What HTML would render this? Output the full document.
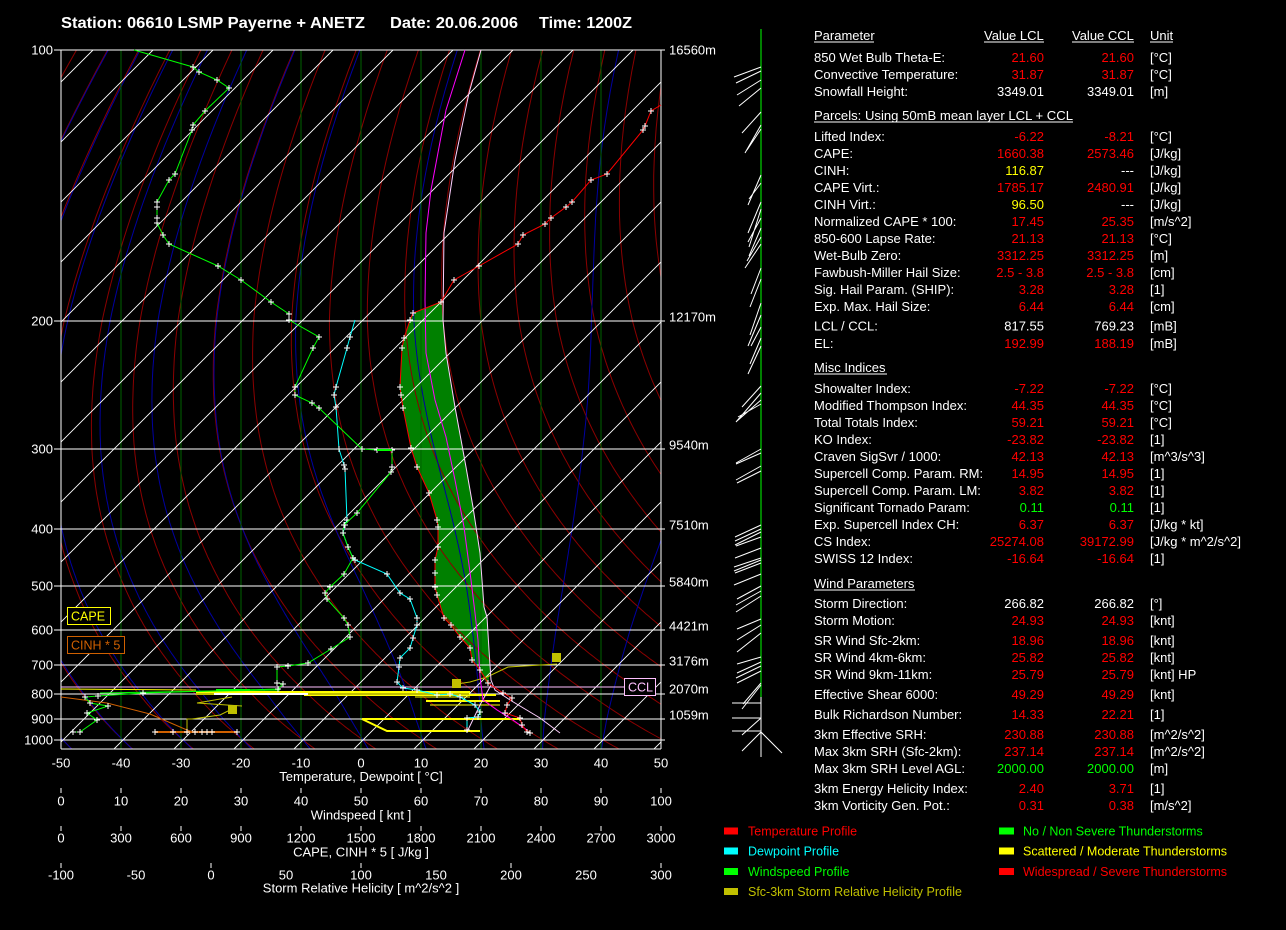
<!DOCTYPE html>
<html><head><meta charset="utf-8">
<style>
html,body{margin:0;padding:0;background:#000;}
svg{display:block;}
text{font-family:"Liberation Sans",Arial,sans-serif;}
.t{font-size:13px;fill:#fff;}
.e{text-anchor:end;}
.m{text-anchor:middle;}
.r{fill:#ff0000;} .y{fill:#ffff00;} .g{fill:#00ff00;}
.lg{font-size:12.5px;}
</style></head><body>
<svg width="1286" height="930" xmlns="http://www.w3.org/2000/svg">
<rect width="1286" height="930" fill="#000"/>
<defs>
<clipPath id="cb"><rect x="61" y="50" width="600" height="699"/></clipPath>
<marker id="pl" markerWidth="8" markerHeight="8" refX="4" refY="4" markerUnits="userSpaceOnUse"><path d="M1 4H7M4 1V7" stroke="#fff" stroke-width="1" fill="none"/></marker>
</defs>

<!-- Title -->
<text x="61" y="28" font-size="16" font-weight="bold" fill="#fff" textLength="304" lengthAdjust="spacingAndGlyphs">Station: 06610 LSMP Payerne + ANETZ</text>
<text x="390" y="28" font-size="16" font-weight="bold" fill="#fff" textLength="128" lengthAdjust="spacingAndGlyphs">Date: 20.06.2006</text>
<text x="539" y="28" font-size="16" font-weight="bold" fill="#fff" textLength="93" lengthAdjust="spacingAndGlyphs">Time: 1200Z</text>

<!-- Chart background -->
<g clip-path="url(#cb)">
  <polygon fill="#008000" points="441,302 443,303 443,320 446,353 455,407 466,467 473,507 480,553 484,607 487,617 489,650 490,672 488,684 486,682 480,670 472,660 470,648 460,637 451,625 444,618 437,595 435,587 435,573 435,560 438,547 438,527 437,520 429,493 417,467 411,448 403,408 401,395 400,387 402,348 404,338 410,320 413,313"/>
  <g id="adi" fill="none" stroke-width="1"></g>
  <path stroke="#006400" stroke-width="1" fill="none" shape-rendering="crispEdges" d="M121 50V749M181 50V749M241 50V749M301 50V749M361 50V749M421 50V749M481 50V749M541 50V749M601 50V749"/>
  <path stroke="#ffffff" stroke-width="0.9" fill="none" d="M-606 749L93 50M-546 749L153 50M-486 749L213 50M-426 749L273 50M-366 749L333 50M-306 749L393 50M-246 749L453 50M-186 749L513 50M-126 749L573 50M-66 749L633 50M-6 749L693 50M54 749L753 50M114 749L813 50M174 749L873 50M234 749L933 50M294 749L993 50M354 749L1053 50M414 749L1113 50M474 749L1173 50M534 749L1233 50M594 749L1293 50M654 749L1353 50"/>
</g>

<!-- Pressure lines and frame -->
<path stroke="#fff" stroke-width="1" fill="none" shape-rendering="crispEdges" d="M54 50H665M54 321H665M54 449H665M54 529H665M54 586H665M54 630H665M54 665H665M54 694H665M54 719H665M54 740H665M61 50V749M661 50V749M61 749H661"/>
<path stroke="#ffc0ff" stroke-width="1" fill="none" shape-rendering="crispEdges" d="M61 687H624"/>

<!-- Pressure labels -->
<g class="t e">
<text x="53" y="54.5">100</text>
<text x="53" y="325.5">200</text>
<text x="53" y="453.5">300</text>
<text x="53" y="533.5">400</text>
<text x="53" y="590.5">500</text>
<text x="53" y="634.5">600</text>
<text x="53" y="669.5">700</text>
<text x="53" y="698.5">800</text>
<text x="53" y="723.5">900</text>
<text x="53" y="744.5">1000</text>
</g>
<!-- Height labels -->
<g class="t">
<text x="669" y="54.5">16560m</text>
<text x="669" y="321.5">12170m</text>
<text x="669" y="449.5">9540m</text>
<text x="669" y="529.5">7510m</text>
<text x="669" y="586.5">5840m</text>
<text x="669" y="630.5">4421m</text>
<text x="669" y="665.5">3176m</text>
<text x="669" y="693.5">2070m</text>
<text x="669" y="719.5">1059m</text>
</g>

<!-- Low-level SRH / CINH / misc lines -->
<g fill="none" stroke-width="1">
  <polyline stroke="#ffff00" points="61,689 196,690"/>
  <polyline stroke="#ffff00" stroke-width="2" points="196,692 470,692"/>
  <polyline stroke="#ffff00" points="360,693 470,693"/>
  <polyline stroke="#ffff00" stroke-width="2" points="304,695 496,695"/>
  <polyline stroke="#ffff00" points="415,697 470,697"/>
  <polyline stroke="#ffff00" stroke-width="2" points="426,701 500,701"/>
  <polyline stroke="#ffff00" points="430,705 500,705"/>
  <polyline stroke="#ffff00" stroke-width="2" points="362,719 520,719"/>
  <polyline stroke="#ffff00" stroke-width="2" points="362,719 387,731 480,731"/>
  <polyline stroke="#c0c000" stroke-width="2" points="196,694 469,694"/>
  <polyline stroke="#c0c000" points="232,697 197,703 242,706"/>
  <polyline stroke="#c0c000" points="232,709 220,715 192,719 187,719 187,730"/>
  <polyline stroke="#c0c000" points="457,684 470,682 487,677 508,667 557,664"/>
  <polyline stroke="#ffffff" stroke-width="2" points="214,694 308,694"/>
  <polyline stroke="#00ff00" stroke-width="2" points="216,690 250,690"/>
  <polyline stroke="#00ff00" points="100,693 280,690"/>
  <polyline stroke="#d06000" points="61,697 107,703 150,714 187,730 193,732"/>
  <polyline stroke="#d06000" stroke-width="2" marker-start="url(#pl)" marker-mid="url(#pl)" marker-end="url(#pl)" points="155,732 173,732 187,732 195,732 202,732 207,732 212,732 237,732"/>
</g>
<g fill="#c0c000">
  <rect x="552" y="653" width="9" height="9"/>
  <rect x="452" y="679" width="9" height="9"/>
  <rect x="228" y="705" width="9" height="9"/>
</g>

<!-- Profiles -->
<g fill="none" stroke-width="1">
  <polyline stroke="#ffd0ff" points="481,50 469,93 455,160 444,233 443,320 446,353 455,407 466,467 473,507 480,553 484,607 487,617 489,650 491,680 495,690 510,700 540,718 560,733"/>
  <polyline stroke="#ffd0ff" points="491,685 480,705 467,732"/>
  <polyline stroke="#ff00ff" points="465,50 446,110 431,190 426,233 425,300 426,353 435,400 446,437 455,480 464,527 471,580 475,613 478,640 480,677 483,700 497,710 510,718 527,730"/>
  <polyline stroke="#ff0000" marker-mid="url(#pl)" marker-end="url(#pl)" points="661,105 651,111 645,126 643,130 607,174 591,180 572,202 566,207 551,218 545,224 523,235 518,244 479,266 454,280 441,302 413,313 410,320 404,338 402,348 400,387 401,395 403,408 411,448 417,467 429,493 437,520 438,527 438,547 435,560 435,573 435,587 437,595 444,618 451,625 460,637 470,648 472,660 480,670 488,683 503,693 512,698 507,705 505,713 520,718 522,725 527,732 530,733"/>
  <polyline stroke="#00ffff" marker-mid="url(#pl)" marker-end="url(#pl)" points="355,320 350,337 347,348 336,387 334,395 336,407 339,449 344,465 345,469 347,520 345,525 343,533 348,547 353,558 355,560 387,574 400,593 410,599 417,618 417,625 413,638 410,648 400,658 399,667 397,682 403,688 417,690 437,695 450,694 460,697 475,705 480,712 478,717 467,718 467,730"/>
  <polyline stroke="#00ff00" marker-mid="url(#pl)" marker-end="url(#pl)" points="134,50 193,67 199,72 217,80 229,88 205,111 193,125 192,130 175,174 169,180 157,202 157,207 157,218 157,223 163,235 169,244 218,266 241,280 271,302 289,314 289,320 319,337 313,348 295,387 295,395 312,403 319,408 362,449 377,450 392,450 392,467 391,472 357,513 344,525 343,533 348,547 353,558 344,574 330,587 325,593 327,599 344,618 348,625 350,637 331,649 308,663 288,666 277,667 277,683 283,684 278,689 143,693 98,696 85,697 90,703 108,706 87,713 97,720 80,732 73,732"/>
  <polyline stroke="#00ff00" stroke-width="2" points="377,450 392,450"/>
</g>

<!-- CAPE / CINH / CCL boxes -->
<rect x="67.5" y="607.5" width="43" height="17" fill="#000" stroke="#ffff00"/>
<text x="71" y="620.5" font-size="12.5" fill="#ffff00">CAPE</text>
<rect x="67.5" y="636.5" width="57" height="17" fill="#000" stroke="#d06000"/>
<text x="71" y="649.5" font-size="12.5" fill="#d06000">CINH * 5</text>
<rect x="624.5" y="678.5" width="31" height="17" fill="#000" stroke="#ffc0ff"/>
<text x="628" y="691.5" font-size="12.5" fill="#ffc0ff">CCL</text>

<!-- Bottom axes -->
<g class="t m">
<text x="61" y="767.5">-50</text><text x="121" y="767.5">-40</text><text x="181" y="767.5">-30</text><text x="241" y="767.5">-20</text><text x="301" y="767.5">-10</text><text x="361" y="767.5">0</text><text x="421" y="767.5">10</text><text x="481" y="767.5">20</text><text x="541" y="767.5">30</text><text x="601" y="767.5">40</text><text x="661" y="767.5">50</text>
<text x="361" y="781">Temperature, Dewpoint [ °C]</text>
<text x="61" y="805.5">0</text><text x="121" y="805.5">10</text><text x="181" y="805.5">20</text><text x="241" y="805.5">30</text><text x="301" y="805.5">40</text><text x="361" y="805.5">50</text><text x="421" y="805.5">60</text><text x="481" y="805.5">70</text><text x="541" y="805.5">80</text><text x="601" y="805.5">90</text><text x="661" y="805.5">100</text>
<text x="361" y="819.5">Windspeed  [ knt ]</text>
<text x="61" y="842.5">0</text><text x="121" y="842.5">300</text><text x="181" y="842.5">600</text><text x="241" y="842.5">900</text><text x="301" y="842.5">1200</text><text x="361" y="842.5">1500</text><text x="421" y="842.5">1800</text><text x="481" y="842.5">2100</text><text x="541" y="842.5">2400</text><text x="601" y="842.5">2700</text><text x="661" y="842.5">3000</text>
<text x="361" y="856.5">CAPE, CINH * 5  [ J/kg ]</text>
<text x="61" y="879.5">-100</text><text x="136" y="879.5">-50</text><text x="211" y="879.5">0</text><text x="286" y="879.5">50</text><text x="361" y="879.5">100</text><text x="436" y="879.5">150</text><text x="511" y="879.5">200</text><text x="586" y="879.5">250</text><text x="661" y="879.5">300</text>
<text x="361" y="892.5">Storm Relative Helicity  [ m^2/s^2 ]</text>
</g>
<path stroke="#fff" stroke-width="1" fill="none" shape-rendering="crispEdges" d="M61 788V793M121 788V793M181 788V793M241 788V793M301 788V793M361 788V793M421 788V793M481 788V793M541 788V793M601 788V793M661 788V793M61 826V831M121 826V831M181 826V831M241 826V831M301 826V831M361 826V831M421 826V831M481 826V831M541 826V831M601 826V831M661 826V831M61 863V868M211 863V868M361 863V868M511 863V868M661 863V868"/>

<!-- Wind barbs -->
<path stroke="#00ff00" stroke-width="1" fill="none" shape-rendering="crispEdges" d="M761 29V697"/>
<path stroke="#fff" stroke-width="1" fill="none" shape-rendering="crispEdges" d="M761 697V757"/>
<path stroke="#fff" stroke-width="1" fill="none" d="M761 67L734 77M761 71L736 83M761 80L737 95M761 88L739 106M761 112L742 133M761 125L745 153M761 129L747 150M761 175L748 205M761 183L749 199M761 202L748 233M761 209L749 247M761 218L748 242M761 228L749 256M761 237L747 261M761 244L745 268M761 268L751 294M761 279L750 307M761 303L750 335M761 315L748 346M761 327L751 346M761 338L750 364M761 346L748 374M761 386L742 407M761 393L736 422M761 400L737 421M761 404L738 417M761 449L736 463M761 453L736 464M761 466L736 480M761 471L737 483M761 525L735 537M761 529L735 541M761 532L735 545M761 537L736 546M761 548L735 558M761 558L734 567M761 560L734 571M761 563L735 573M761 574L734 585M761 586L737 599M761 591L736 605M761 596L736 612M761 619L737 629M761 625L737 640M761 633L737 652M761 657L737 664M761 662L737 673M761 666L736 678M761 671L737 683M761 683L743 704M761 685L742 709M732 703H761M732 718H761M732 731H761M761 718L742 735M761 732L742 751M761 732L782 753"/>

<!-- Parameter table -->
<g class="t">
<text x="814" y="40">Parameter</text>
<text x="984" y="40">Value LCL</text>
<text x="1072" y="40">Value CCL</text>
<text x="1150" y="40">Unit</text>
</g>
<path stroke="#fff" stroke-width="1" fill="none" shape-rendering="crispEdges" d="M814 42H874M984 42H1044M1072 42H1134M1150 42H1173M814 122H1073M814 374H887M814 590H915"/>

<g class="t">
<text x="814" y="62">850 Wet Bulb Theta-E:</text>
<text x="814" y="79">Convective Temperature:</text>
<text x="814" y="96">Snowfall Height:</text>
<text x="814" y="120" textLength="259" lengthAdjust="spacingAndGlyphs">Parcels: Using 50mB mean layer LCL + CCL</text>
<text x="814" y="141">Lifted Index:</text>
<text x="814" y="158">CAPE:</text>
<text x="814" y="175">CINH:</text>
<text x="814" y="192">CAPE Virt.:</text>
<text x="814" y="209">CINH Virt.:</text>
<text x="814" y="226">Normalized CAPE * 100:</text>
<text x="814" y="243">850-600 Lapse Rate:</text>
<text x="814" y="260">Wet-Bulb Zero:</text>
<text x="814" y="277">Fawbush-Miller Hail Size:</text>
<text x="814" y="294">Sig. Hail Param. (SHIP):</text>
<text x="814" y="311">Exp. Max. Hail Size:</text>
<text x="814" y="330.5">LCL / CCL:</text>
<text x="814" y="348">EL:</text>
<text x="814" y="372">Misc Indices</text>
<text x="814" y="393">Showalter Index:</text>
<text x="814" y="410">Modified Thompson Index:</text>
<text x="814" y="427">Total Totals Index:</text>
<text x="814" y="444">KO Index:</text>
<text x="814" y="461">Craven SigSvr / 1000:</text>
<text x="814" y="478">Supercell Comp. Param. RM:</text>
<text x="814" y="495">Supercell Comp. Param. LM:</text>
<text x="814" y="512">Significant Tornado Param:</text>
<text x="814" y="529">Exp. Supercell Index CH:</text>
<text x="814" y="546">CS Index:</text>
<text x="814" y="563">SWISS 12 Index:</text>
<text x="814" y="588">Wind Parameters</text>
<text x="814" y="608">Storm Direction:</text>
<text x="814" y="625">Storm Motion:</text>
<text x="814" y="645">SR Wind Sfc-2km:</text>
<text x="814" y="662">SR Wind 4km-6km:</text>
<text x="814" y="679">SR Wind 9km-11km:</text>
<text x="814" y="699">Effective Shear 6000:</text>
<text x="814" y="719">Bulk Richardson Number:</text>
<text x="814" y="739">3km Effective SRH:</text>
<text x="814" y="756">Max 3km SRH (Sfc-2km):</text>
<text x="814" y="773">Max 3km SRH Level AGL:</text>
<text x="814" y="793">3km Energy Helicity Index:</text>
<text x="814" y="810">3km Vorticity Gen. Pot.:</text>
</g>

<g class="t e">
<text x="1044" y="62" class="r">21.60</text><text x="1134" y="62" class="r">21.60</text>
<text x="1044" y="79" class="r">31.87</text><text x="1134" y="79" class="r">31.87</text>
<text x="1044" y="96">3349.01</text><text x="1134" y="96">3349.01</text>
<text x="1044" y="141" class="r">-6.22</text><text x="1134" y="141" class="r">-8.21</text>
<text x="1044" y="158" class="r">1660.38</text><text x="1134" y="158" class="r">2573.46</text>
<text x="1044" y="175" class="y">116.87</text><text x="1134" y="175">---</text>
<text x="1044" y="192" class="r">1785.17</text><text x="1134" y="192" class="r">2480.91</text>
<text x="1044" y="209" class="y">96.50</text><text x="1134" y="209">---</text>
<text x="1044" y="226" class="r">17.45</text><text x="1134" y="226" class="r">25.35</text>
<text x="1044" y="243" class="r">21.13</text><text x="1134" y="243" class="r">21.13</text>
<text x="1044" y="260" class="r">3312.25</text><text x="1134" y="260" class="r">3312.25</text>
<text x="1044" y="277" class="r">2.5 - 3.8</text><text x="1134" y="277" class="r">2.5 - 3.8</text>
<text x="1044" y="294" class="r">3.28</text><text x="1134" y="294" class="r">3.28</text>
<text x="1044" y="311" class="r">6.44</text><text x="1134" y="311" class="r">6.44</text>
<text x="1044" y="330.5">817.55</text><text x="1134" y="330.5">769.23</text>
<text x="1044" y="348" class="r">192.99</text><text x="1134" y="348" class="r">188.19</text>
<text x="1044" y="393" class="r">-7.22</text><text x="1134" y="393" class="r">-7.22</text>
<text x="1044" y="410" class="r">44.35</text><text x="1134" y="410" class="r">44.35</text>
<text x="1044" y="427" class="r">59.21</text><text x="1134" y="427" class="r">59.21</text>
<text x="1044" y="444" class="r">-23.82</text><text x="1134" y="444" class="r">-23.82</text>
<text x="1044" y="461" class="r">42.13</text><text x="1134" y="461" class="r">42.13</text>
<text x="1044" y="478" class="r">14.95</text><text x="1134" y="478" class="r">14.95</text>
<text x="1044" y="495" class="r">3.82</text><text x="1134" y="495" class="r">3.82</text>
<text x="1044" y="512" class="g">0.11</text><text x="1134" y="512" class="g">0.11</text>
<text x="1044" y="529" class="r">6.37</text><text x="1134" y="529" class="r">6.37</text>
<text x="1044" y="546" class="r">25274.08</text><text x="1134" y="546" class="r">39172.99</text>
<text x="1044" y="563" class="r">-16.64</text><text x="1134" y="563" class="r">-16.64</text>
<text x="1044" y="608">266.82</text><text x="1134" y="608">266.82</text>
<text x="1044" y="625" class="r">24.93</text><text x="1134" y="625" class="r">24.93</text>
<text x="1044" y="645" class="r">18.96</text><text x="1134" y="645" class="r">18.96</text>
<text x="1044" y="662" class="r">25.82</text><text x="1134" y="662" class="r">25.82</text>
<text x="1044" y="679" class="r">25.79</text><text x="1134" y="679" class="r">25.79</text>
<text x="1044" y="699" class="r">49.29</text><text x="1134" y="699" class="r">49.29</text>
<text x="1044" y="719" class="r">14.33</text><text x="1134" y="719" class="r">22.21</text>
<text x="1044" y="739" class="r">230.88</text><text x="1134" y="739" class="r">230.88</text>
<text x="1044" y="756" class="r">237.14</text><text x="1134" y="756" class="r">237.14</text>
<text x="1044" y="773" class="g">2000.00</text><text x="1134" y="773" class="g">2000.00</text>
<text x="1044" y="793" class="r">2.40</text><text x="1134" y="793" class="r">3.71</text>
<text x="1044" y="810" class="r">0.31</text><text x="1134" y="810" class="r">0.38</text>
</g>

<g class="t">
<text x="1150" y="62">[°C]</text>
<text x="1150" y="79">[°C]</text>
<text x="1150" y="96">[m]</text>
<text x="1150" y="141">[°C]</text>
<text x="1150" y="158">[J/kg]</text>
<text x="1150" y="175">[J/kg]</text>
<text x="1150" y="192">[J/kg]</text>
<text x="1150" y="209">[J/kg]</text>
<text x="1150" y="226">[m/s^2]</text>
<text x="1150" y="243">[°C]</text>
<text x="1150" y="260">[m]</text>
<text x="1150" y="277">[cm]</text>
<text x="1150" y="294">[1]</text>
<text x="1150" y="311">[cm]</text>
<text x="1150" y="330.5">[mB]</text>
<text x="1150" y="348">[mB]</text>
<text x="1150" y="393">[°C]</text>
<text x="1150" y="410">[°C]</text>
<text x="1150" y="427">[°C]</text>
<text x="1150" y="444">[1]</text>
<text x="1150" y="461">[m^3/s^3]</text>
<text x="1150" y="478">[1]</text>
<text x="1150" y="495">[1]</text>
<text x="1150" y="512">[1]</text>
<text x="1150" y="529">[J/kg * kt]</text>
<text x="1150" y="546">[J/kg * m^2/s^2]</text>
<text x="1150" y="563">[1]</text>
<text x="1150" y="608">[°]</text>
<text x="1150" y="625">[knt]</text>
<text x="1150" y="645">[knt]</text>
<text x="1150" y="662">[knt]</text>
<text x="1150" y="679">[knt] HP</text>
<text x="1150" y="699">[knt]</text>
<text x="1150" y="719">[1]</text>
<text x="1150" y="739">[m^2/s^2]</text>
<text x="1150" y="756">[m^2/s^2]</text>
<text x="1150" y="773">[m]</text>
<text x="1150" y="793">[1]</text>
<text x="1150" y="810">[m/s^2]</text>
</g>

<!-- Legend -->
<rect x="724" y="827.5" width="14" height="7" fill="#ff0000"/>
<rect x="724" y="847.5" width="14" height="7" fill="#00ffff"/>
<rect x="724" y="868" width="14" height="7" fill="#00ff00"/>
<rect x="724" y="888" width="14" height="7" fill="#c0c000"/>
<rect x="999" y="827.5" width="15" height="7" fill="#00ff00"/>
<rect x="999" y="847.5" width="15" height="7" fill="#ffff00"/>
<rect x="999" y="868" width="15" height="7" fill="#ff0000"/>
<g class="lg">
<text x="748" y="835.5" fill="#ff0000">Temperature Profile</text>
<text x="748" y="855.5" fill="#00ffff">Dewpoint Profile</text>
<text x="748" y="876" fill="#00ff00">Windspeed Profile</text>
<text x="748" y="896" fill="#c0c000">Sfc-3km Storm Relative Helicity Profile</text>
<text x="1023" y="835.5" fill="#00ff00">No / Non Severe Thunderstorms</text>
<text x="1023" y="855.5" fill="#ffff00">Scattered / Moderate Thunderstorms</text>
<text x="1023" y="876" fill="#ff0000">Widespread / Severe Thunderstorms</text>
</g>
</svg>

<script>
(function(){
  var P=[100,200,300,400,500,600,700,800,900,1000];
  var Y=[50,321,449,529,586,630,665,694,719,740];
  function f(p){return Math.pow(p,-0.35);}
  function yOf(p){
    var i;
    if(p<=P[0]) i=0;
    else if(p>=1000) i=8;
    else { for(i=0;i<8;i++){ if(p<P[i+1]) break; } }
    var a=f(P[i]), b=f(P[i+1]);
    var t=(f(p)-a)/(b-a);
    return Y[i]+t*(Y[i+1]-Y[i]);
  }
  function xOf(Tc,y){return 63+(Tc+50)*6+(740-y);}
  function es(Tc){return 6.112*Math.exp(17.67*Tc/(Tc+243.5));}
  function dTdp(T,p){
    var Tc=T-273.15; var e=es(Tc); var rs=0.622*e/Math.max(p-e,1);
    var Rd=287.04, cp=1005.7, L=2.501e6, eps=0.622;
    return ((Rd*T+L*rs)/p)/(cp+(L*L*rs*eps)/(Rd*T*T));
  }
  var g=document.getElementById('adi');
  var ns='http://www.w3.org/2000/svg';
  var d='';
  for(var th=-80; th<=140; th+=10){
    var TK=th+273.15, s='';
    for(var p=95;p<=1060;p+=5){
      var T=TK*Math.pow(p/1000,0.2857)-273.15;
      var y=yOf(p), x=xOf(T,y);
      s+=(s?'L':'M')+x.toFixed(1)+' '+y.toFixed(1);
    }
    d+=s;
  }
  var pe=document.createElementNS(ns,'path');
  pe.setAttribute('d',d); pe.setAttribute('stroke','#8b0000'); pe.setAttribute('fill','none');
  g.appendChild(pe);
  var dm='';
  for(var tw=-50; tw<=50; tw+=10){
    var arr=[]; var T0=tw+273.15;
    var T2=T0, p2=1000;
    var low=[];
    while(p2<1060){ T2+=dTdp(T2,p2)*5; p2+=5; low.push([p2,T2]); }
    low.reverse();
    arr=low.concat([[1000,T0]]);
    var T1=T0, p1=1000;
    while(p1>95){
      var dd=-5; var k1=dTdp(T1,p1); var k2=dTdp(T1+k1*dd,p1+dd);
      T1+=0.5*(k1+k2)*dd; p1+=dd; arr.push([p1,T1]);
    }
    var s2='';
    for(var i=0;i<arr.length;i++){
      var yy=yOf(arr[i][0]); var xx=xOf(arr[i][1]-273.15,yy);
      s2+=(s2?'L':'M')+xx.toFixed(1)+' '+yy.toFixed(1);
    }
    dm+=s2;
  }
  var pm=document.createElementNS(ns,'path');
  pm.setAttribute('d',dm); pm.setAttribute('stroke','#0000a0'); pm.setAttribute('fill','none');
  g.appendChild(pm);
})();
</script>
</body></html>
